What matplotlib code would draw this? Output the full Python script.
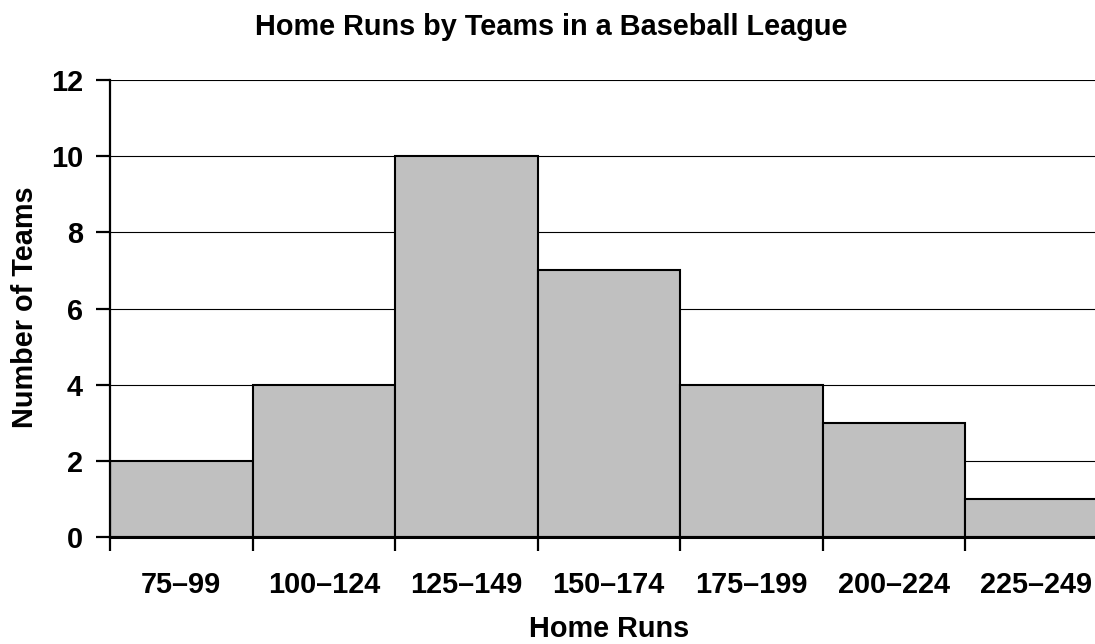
import matplotlib
matplotlib.use("Agg")
import matplotlib.pyplot as plt
import matplotlib.transforms as mtransforms
import numpy as np

categories = ["75–99", "100–124", "125–149", "150–174", "175–199", "200–224", "225–249"]
counts = [2, 4, 10, 7, 4, 3, 1]
yticks = [0, 2, 4, 6, 8, 10, 12]

plt.rcParams['font.family'] = ['Liberation Sans', 'DejaVu Sans']
plt.rcParams['font.weight'] = 'bold'
FS = 20.8

fig = plt.figure(figsize=(10.95, 6.44), dpi=100)
W, H = 1095, 644
left, right, top, bottom = 110, 1107.5, 80, 537
ax = fig.add_axes([left / W, (H - bottom) / H, (right - left) / W, (bottom - top) / H])

x = np.arange(len(categories))
ax.set_axisbelow(True)
ax.yaxis.grid(True, color='black', linewidth=0.8)
ax.bar(x, counts, width=1.0, align='edge', color='#C0C0C0', edgecolor='black', linewidth=1.5, zorder=2)

ax.set_xlim(0, len(categories))
ax.set_ylim(0, 12)
ax.set_yticks(yticks)
ax.set_yticklabels([str(v) for v in yticks], fontsize=FS, fontweight='bold')
ax.set_xticks(np.arange(len(categories) + 1))
ax.set_xticklabels([])
ax.tick_params(axis='x', which='major', direction='out', length=10, width=1.6)
ax.tick_params(axis='y', direction='out', length=10, width=1.6, pad=9.5)

# category labels centred under each bin, baseline at a fixed height
trans = mtransforms.blended_transform_factory(ax.transData, fig.transFigure)
for xi, lab in zip(x, categories):
    ax.text(xi + 0.5, 1 - 593 / H, lab, transform=trans, ha='center', va='baseline',
            fontsize=FS, fontweight='bold', clip_on=False)

for s in ['top', 'right']:
    ax.spines[s].set_visible(False)
ax.spines['left'].set_linewidth(1.6)
ax.spines['bottom'].set_linewidth(2.2)
ax.spines['bottom'].set_zorder(3)

fig.text(551 / W, 1 - 35 / H, "Home Runs by Teams in a Baseball League", ha='center', va='baseline',
         fontsize=FS, fontweight='bold')
fig.text(609 / W, 1 - 637 / H, "Home Runs", ha='center', va='baseline', fontsize=FS, fontweight='bold')
fig.text(33 / W, 1 - 307.5 / H, "Number of Teams", ha='center', va='baseline', rotation=90,
         rotation_mode='anchor', fontsize=FS, fontweight='bold')

fig.savefig("out.png", dpi=100)
